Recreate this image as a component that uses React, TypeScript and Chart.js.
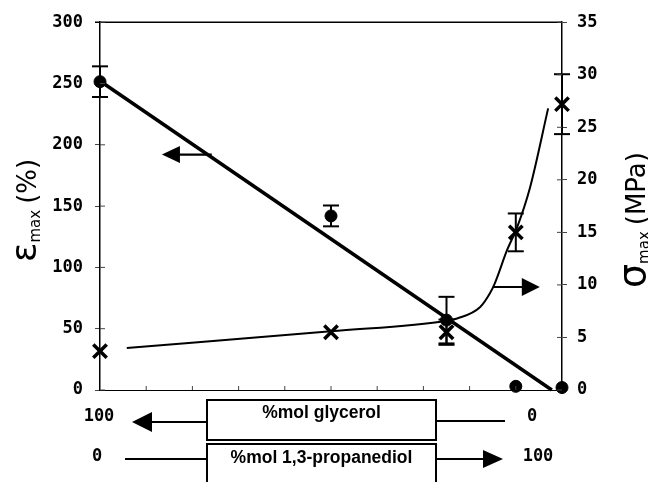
import React, { useEffect, useRef } from 'react';
import { Chart, registerables } from 'chart.js';
Chart.register(...registerables);

// %mol 1,3-propanediol (0 = 100 %mol glycerol)
const compositionX = [0, 50, 75, 90, 100];
const strainValues = [251.5, 142, 57, 3, 2];
const strainErrors = [12.5, 8.5, 19, 0, 0];
const stressValues = [3.7, 5.5, 5.5, 15.0, 27.2];
const stressErrors = [0, 0, 1.2, 1.8, 2.85];
const strainFitX = [0, 97.8];
const strainFitY = [252, 0];
const stressCurveX = [5.8, 50, 75.3, 77.3, 82.3, 84.4, 85.5, 88.1, 90.3, 93.1, 97.0];
const stressCurveY = [4.0, 5.6, 6.6, 6.8, 7.9, 9.2, 10.2, 13.3, 15.5, 19.3, 26.8];
const minorTicksX = [10, 20, 30, 40, 50, 60, 70, 80, 90];
const glycerolEnds = ['100', '0'];
const propanediolEnds = ['0', '100'];
const glycerolLabel = '%mol glycerol';
const propanediolLabel = '%mol 1,3-propanediol';

const TICK_FONT = 'bold 17px "DejaVu Sans Mono"';

function arrowHead(ctx: CanvasRenderingContext2D, tipX: number, y: number, dir: number, len: number, half: number) {
  ctx.beginPath();
  ctx.moveTo(tipX, y);
  ctx.lineTo(tipX - dir * len, y - half);
  ctx.lineTo(tipX - dir * len, y + half);
  ctx.closePath();
  ctx.fill();
}

function seg(ctx: CanvasRenderingContext2D, x1: number, y1: number, x2: number, y2: number) {
  ctx.beginPath();
  ctx.moveTo(x1, y1);
  ctx.lineTo(x2, y2);
  ctx.stroke();
}

const decorPlugin = {
  id: 'decor',
  afterDatasetsDraw(chart: any) {
    const { ctx, scales } = chart;
    const x = scales.x, y = scales.y, y2 = scales.y2;
    ctx.save();
    ctx.strokeStyle = '#000';
    ctx.lineWidth = 2;
    const bars = (vals: number[], errs: number[], sc: any) => {
      vals.forEach((v, i) => {
        const e = errs[i];
        if (!e) return;
        const px = x.getPixelForValue(compositionX[i]);
        const top = sc.getPixelForValue(v + e);
        const bot = sc.getPixelForValue(v - e);
        seg(ctx, px, top, px, bot);
        seg(ctx, px - 8, top, px + 8, top);
        seg(ctx, px - 8, bot, px + 8, bot);
      });
    };
    bars(strainValues, strainErrors, y);
    bars(stressValues, stressErrors, y2);
    ctx.restore();
  },
  afterDraw(chart: any) {
    const { ctx, chartArea: ca, scales } = chart;
    const x = scales.x, y = scales.y, y2 = scales.y2;
    ctx.save();
    ctx.strokeStyle = '#000';
    ctx.fillStyle = '#000';
    ctx.lineWidth = 1.5;
    seg(ctx, ca.left - 5, ca.top, ca.right, ca.top);
    ctx.lineWidth = 1;
    ctx.strokeStyle = '#444';
    y.ticks.forEach((t: any) => {
      const py = y.getPixelForValue(t.value);
      seg(ctx, ca.left, py, ca.left + 5, py);
    });
    y2.ticks.forEach((t: any) => {
      const py = y2.getPixelForValue(t.value);
      seg(ctx, ca.right - 5, py, ca.right, py);
    });
    minorTicksX.forEach((v) => {
      const px = x.getPixelForValue(v);
      seg(ctx, px, ca.bottom, px, ca.bottom - 4);
    });
    ctx.strokeStyle = '#000';
    ctx.lineWidth = 2.2;
    const ay = y.getPixelForValue(192);
    const a1 = x.getPixelForValue(24.2), a1t = x.getPixelForValue(13.4);
    seg(ctx, a1, ay, a1t + 10, ay);
    arrowHead(ctx, a1t, ay, -1, 18, 8.5);
    const by = y2.getPixelForValue(9.8);
    const b1 = x.getPixelForValue(85.1), b1t = x.getPixelForValue(95.2);
    seg(ctx, b1, by, b1t - 10, by);
    arrowHead(ctx, b1t, by, 1, 18, 9);

    const drawTitle = (baseX: number, startY: number, parts: { t: string; f: string; dy: number; gap: number }[]) => {
      ctx.save();
      ctx.translate(baseX, startY);
      ctx.rotate(-Math.PI / 2);
      ctx.textAlign = 'left';
      ctx.textBaseline = 'alphabetic';
      let cx = 0;
      parts.forEach((p) => {
        ctx.font = p.f;
        ctx.fillText(p.t, cx, p.dy);
        cx += ctx.measureText(p.t).width + p.gap;
      });
      ctx.restore();
    };
    drawTitle(36, 262, [
      { t: 'ε', f: '36px "DejaVu Sans"', dy: 0, gap: 0 },
      { t: 'max', f: '15px "DejaVu Sans"', dy: 4, gap: 6 },
      { t: '(%)', f: '26px "DejaVu Sans"', dy: 0, gap: 0 },
    ]);
    drawTitle(645, 288, [
      { t: 'σ', f: '38px "DejaVu Sans"', dy: 0, gap: 0 },
      { t: 'max', f: '15px "DejaVu Sans"', dy: 4, gap: 6 },
      { t: '(MPa)', f: '26px "DejaVu Sans"', dy: 0, gap: 0 },
    ]);

    const boxL = 207, boxR = 436;
    const r1 = 420, r2 = 459;
    ctx.lineWidth = 2;
    ctx.strokeRect(boxL, 400, boxR - boxL, 40);
    ctx.strokeRect(boxL, 444, boxR - boxL, 48);
    ctx.font = 'bold 17.5px "Liberation Sans"';
    ctx.textAlign = 'center';
    ctx.textBaseline = 'middle';
    ctx.fillText(glycerolLabel, (boxL + boxR) / 2, 413);
    ctx.fillText(propanediolLabel, (boxL + boxR) / 2, 458);
    ctx.lineWidth = 2;
    seg(ctx, boxL, r1 + 2, 150, r1 + 2);
    arrowHead(ctx, 132, r1 + 2, -1, 20, 10);
    seg(ctx, boxR, r1 + 1, 505, r1 + 1);
    seg(ctx, 125, r2, boxL, r2);
    seg(ctx, boxR, r2, 485, r2);
    arrowHead(ctx, 503, r2, 1, 20, 9);
    ctx.font = TICK_FONT;
    ctx.fillText(glycerolEnds[0], 99, 417);
    ctx.fillText(glycerolEnds[1], 532, 417);
    ctx.fillText(propanediolEnds[0], 97, 457);
    ctx.fillText(propanediolEnds[1], 538, 457);
    ctx.restore();
  },
};

export default function App() {
  const ref = useRef<HTMLCanvasElement>(null);
  useEffect(() => {
    if (!ref.current) return;
    const xy = (xs: number[], ys: number[]) => xs.map((v, i) => ({ x: v, y: ys[i] }));
    const tickFont = { family: 'DejaVu Sans Mono', size: 17, weight: 'bold' };
    const chart = new Chart(ref.current, {
      type: 'scatter',
      data: {
        datasets: [
          {
            data: xy(strainFitX, strainFitY),
            showLine: true,
            borderColor: '#000',
            borderWidth: 3.5,
            pointRadius: 0,
            yAxisID: 'y',
            clip: false,
          } as any,
          {
            data: xy(stressCurveX, stressCurveY),
            showLine: true,
            borderColor: '#000',
            borderWidth: 2,
            pointRadius: 0,
            cubicInterpolationMode: 'monotone',
            yAxisID: 'y2',
            clip: false,
          } as any,
          {
            data: xy(compositionX, strainValues),
            pointStyle: 'circle',
            pointRadius: 6,
            borderWidth: 1,
            backgroundColor: '#000',
            borderColor: '#000',
            yAxisID: 'y',
            clip: false,
          } as any,
          {
            data: xy(compositionX, stressValues),
            pointStyle: 'crossRot',
            pointRadius: 9.5,
            borderWidth: 3.5,
            borderColor: '#000',
            backgroundColor: '#000',
            yAxisID: 'y2',
            clip: false,
          } as any,
        ],
      },
      options: {
        animation: false,
        responsive: true,
        maintainAspectRatio: false,
        layout: { padding: { top: 21, left: 0, right: 0, bottom: 0 } },
        plugins: { legend: { display: false }, tooltip: { enabled: false } },
        scales: {
          x: {
            type: 'linear',
            min: 0,
            max: 100,
            ticks: { display: false },
            grid: { display: false },
            border: { display: true, color: '#000', width: 1 },
            afterFit: (s: any) => { s.height = 92; },
          },
          y: {
            position: 'left',
            min: 0,
            max: 300,
            ticks: { stepSize: 50, color: '#000', padding: 12, font: tickFont },
            grid: { drawOnChartArea: false, tickLength: 5, color: '#444' },
            border: { display: true, color: '#000', width: 1.5 },
            afterFit: (s: any) => { s.width = 100; },
          },
          y2: {
            position: 'right',
            min: 0,
            max: 35,
            ticks: { stepSize: 5, color: '#000', padding: 10, font: tickFont },
            grid: { drawOnChartArea: false, tickLength: 5, color: '#444' },
            border: { display: true, color: '#000', width: 1.5 },
            afterFit: (s: any) => { s.width = 86; },
          },
        },
      } as any,
      plugins: [decorPlugin],
    });
    return () => chart.destroy();
  }, []);
  return (
    <div style={{ position: 'fixed', left: 0, top: 0, width: 648, height: 482, background: '#fff' }}>
      <canvas ref={ref} />
    </div>
  );
}
